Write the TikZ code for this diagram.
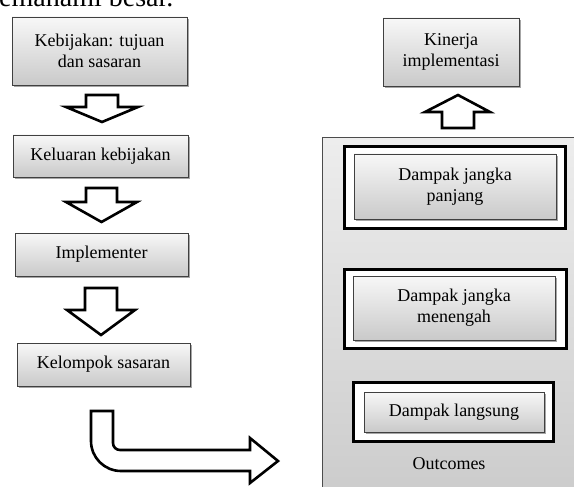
\documentclass[tikz,border=0pt]{standalone}
\usepackage{fontspec}
\setmainfont{Liberation Serif}
\usetikzlibrary{shadows}
\begin{document}
\begin{tikzpicture}[x=1pt,y=-1pt,
  box/.style={rectangle, draw=black!75, line width=0.9pt, top color=gray!6, bottom color=gray!42,
     inner sep=0pt, outer sep=0pt, align=center,
     font=\fontsize{18}{21}\selectfont,
     drop shadow={shadow xshift=1.6pt, shadow yshift=-1.6pt, opacity=0.35, fill=black}},
  frame/.style={rectangle, draw=black, line width=3pt, fill=white, inner sep=0pt, outer sep=0pt},
  blockarrow/.style={draw=black, line width=2.6pt, fill=white, line join=miter},
  lbl/.style={font=\fontsize{18}{21}\selectfont, inner sep=0pt}
]
\useasboundingbox (0,0) rectangle (574,487);
\clip (0,0) rectangle (574,487);
\fill[white] (0,0) rectangle (574,487);

% clipped text line at the top edge
\node[anchor=base west, inner sep=0pt, font=\fontsize{28}{30}\selectfont] (toptext) at (-1,6.5) {emahami besar.};

% left column
\node[box, minimum width=175pt, minimum height=68pt] (k1) at (99.5,51) {Kebijakan: tujuan\\dan sasaran};
\node[box, minimum width=175pt, minimum height=42pt] (k2) at (100.5,156) {Keluaran kebijakan};
\node[box, minimum width=173pt, minimum height=43pt] (k3) at (101.5,254.5) {Implementer};
\node[box, minimum width=173pt, minimum height=43pt] (k4) at (103.5,364.5) {Kelompok sasaran};

% down block arrows
\draw[blockarrow] (86,95) -- (118,95) -- (118,107) -- (138,107) -- (102,122) -- (66,107) -- (86,107) -- cycle;
\draw[blockarrow] (86,188) -- (117,188) -- (117,202) -- (137,202) -- (101.5,222) -- (66,202) -- (86,202) -- cycle;
\draw[blockarrow] (85,288) -- (117,288) -- (117,310) -- (135,310) -- (101,335) -- (67,310) -- (85,310) -- cycle;

% bent arrow
\draw[blockarrow] (91,411) -- (113,411) -- (113,443)
   .. controls (113,446.9) and (116.1,450) .. (120,450)
   -- (250,450) -- (250,438) -- (278,461) -- (250,483) -- (250,471) -- (121,471)
   .. controls (104.4,471) and (91,457.6) .. (91,441) -- cycle;

% right side
\node[box, minimum width=136pt, minimum height=68pt] (kin) at (451,52) {Kinerja\\implementasi};
\draw[blockarrow] (442,128) -- (474,128) -- (474,112) -- (490,112) -- (458,95) -- (425,112) -- (442,112) -- cycle;

\node[rectangle, draw=black!70, line width=1pt, top color=gray!14, bottom color=gray!40,
  minimum width=260pt, minimum height=355pt, inner sep=0pt, outer sep=0pt] (panel) at (452,315.5) {};

\node[frame, minimum width=221pt, minimum height=81pt] (f1) at (454.5,187.5) {};
\node[box, minimum width=202pt, minimum height=65pt] (d1) at (455,186.5) {Dampak jangka\\panjang};

\node[frame, minimum width=222pt, minimum height=79pt] (f2) at (455,308.5) {};
\node[box, minimum width=202pt, minimum height=64pt] (d2) at (454,308) {Dampak jangka\\menengah};

\node[frame, minimum width=200pt, minimum height=59pt] (f3) at (453,411.5) {};
\node[box, minimum width=180pt, minimum height=40pt] (d3) at (454,412) {Dampak langsung};

\node[lbl] (out) at (449,464) {Outcomes};
\end{tikzpicture}
\end{document}
